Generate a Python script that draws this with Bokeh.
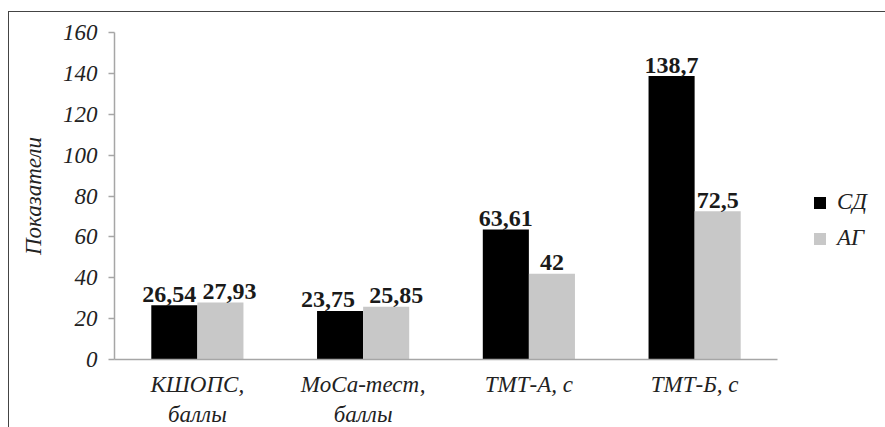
from bokeh.plotting import figure
from bokeh.models import ColumnDataSource, FactorRange, Legend, LegendItem, FixedTicker
from bokeh.transform import dodge
from bokeh.core.properties import value
from bokeh.embed import file_html
from bokeh.resources import INLINE

categories = ["КШОПС,\nбаллы", "МоСа-тест,\nбаллы", "ТМТ-А, с", "ТМТ-Б, с"]
series_names = ["СД", "АГ"]
sd_values = [26.54, 23.75, 63.61, 138.7]
ag_values = [27.93, 25.85, 42, 72.5]
y_ticks = [0, 20, 40, 60, 80, 100, 120, 140, 160]

# style: horizontal nudges of value labels where they would collide
sd_label_shift = [-5, -12, 0, 0]
ag_label_shift = [9, 10, 0, 0]

def fmt(v):
    return f"{v:g}".replace(".", ",")

src = ColumnDataSource(dict(
    cat=categories,
    sd=sd_values,
    ag=ag_values,
    sd_lab=[fmt(v) for v in sd_values],
    ag_lab=[fmt(v) for v in ag_values],
    sd_shift=sd_label_shift,
    ag_shift=ag_label_shift,
))

SERIF = "Liberation Serif"
BLACK = "#000000"
GREY = "#c8c8c8"
AXIS = "#a6a6a6"
TXT = "#222222"

p = figure(
    x_range=FactorRange(*categories),
    y_range=(0, 160),
    frame_width=663, frame_height=327,
    output_backend="svg", toolbar_location=None,
    min_border_left=105, min_border_right=107,
    min_border_top=20, min_border_bottom=0,
)
p.styles = {"margin-top": "11px", "margin-left": "8px",
            "border-top": "1.5px solid #444444", "border-left": "1.5px solid #444444"}
p.outline_line_color = None
p.xgrid.grid_line_color = None
p.ygrid.grid_line_color = None

bw = 0.278
r_sd = p.vbar(x=dodge("cat", -0.139, range=p.x_range), top="sd", width=bw, source=src,
              fill_color=BLACK, line_color=None)
r_ag = p.vbar(x=dodge("cat", 0.139, range=p.x_range), top="ag", width=bw, source=src,
              fill_color=GREY, line_color=None)

p.text(x=dodge("cat", -0.139, range=p.x_range), y="sd", text="sd_lab", source=src,
       x_offset="sd_shift", y_offset=-11, text_align="center", text_baseline="alphabetic",
       text_font=value(SERIF), text_font_style="bold", text_font_size="24px", text_color="#1a1a1a")
p.text(x=dodge("cat", 0.139, range=p.x_range), y="ag", text="ag_lab", source=src,
       x_offset="ag_shift", y_offset=-11, text_align="center", text_baseline="alphabetic",
       text_font=value(SERIF), text_font_style="bold", text_font_size="24px", text_color="#1a1a1a")

# y axis
ya = p.yaxis[0]
ya.ticker = FixedTicker(ticks=y_ticks)
ya.axis_line_color = AXIS
ya.axis_line_width = 1.5
ya.major_tick_line_color = AXIS
ya.major_tick_line_width = 1.5
ya.major_tick_out = 6
ya.major_tick_in = 0
ya.minor_tick_line_color = None
ya.major_label_text_font = SERIF
ya.major_label_text_font_style = "italic"
ya.major_label_text_font_size = "23px"
ya.major_label_text_color = TXT
ya.major_label_standoff = 11
ya.axis_label = "Показатели"
ya.axis_label_text_font = SERIF
ya.axis_label_text_font_style = "italic"
ya.axis_label_text_font_size = "23px"
ya.axis_label_text_color = TXT
ya.axis_label_standoff = 14

# x axis
xa = p.xaxis[0]
xa.axis_line_color = AXIS
xa.axis_line_width = 1.5
xa.major_tick_line_color = None
xa.minor_tick_line_color = None
xa.major_label_text_font = SERIF
xa.major_label_text_font_style = "italic"
xa.major_label_text_font_size = "23px"
xa.major_label_text_color = TXT
xa.major_label_standoff = 6
xa.major_label_orientation = "horizontal"

legend = Legend(
    items=[LegendItem(label=series_names[0], renderers=[r_sd]),
           LegendItem(label=series_names[1], renderers=[r_ag])],
    location=(35, 108),
    orientation="vertical",
    border_line_color=None,
    background_fill_alpha=0,
    padding=0, margin=0, spacing=10,
    glyph_width=15, glyph_height=15,
    label_standoff=10,
    label_text_font=SERIF,
    label_text_font_style="italic",
    label_text_font_size="23px",
    label_text_color=TXT,
)
p.add_layout(legend, "right")

open("out.html", "w").write(file_html(p, INLINE))
